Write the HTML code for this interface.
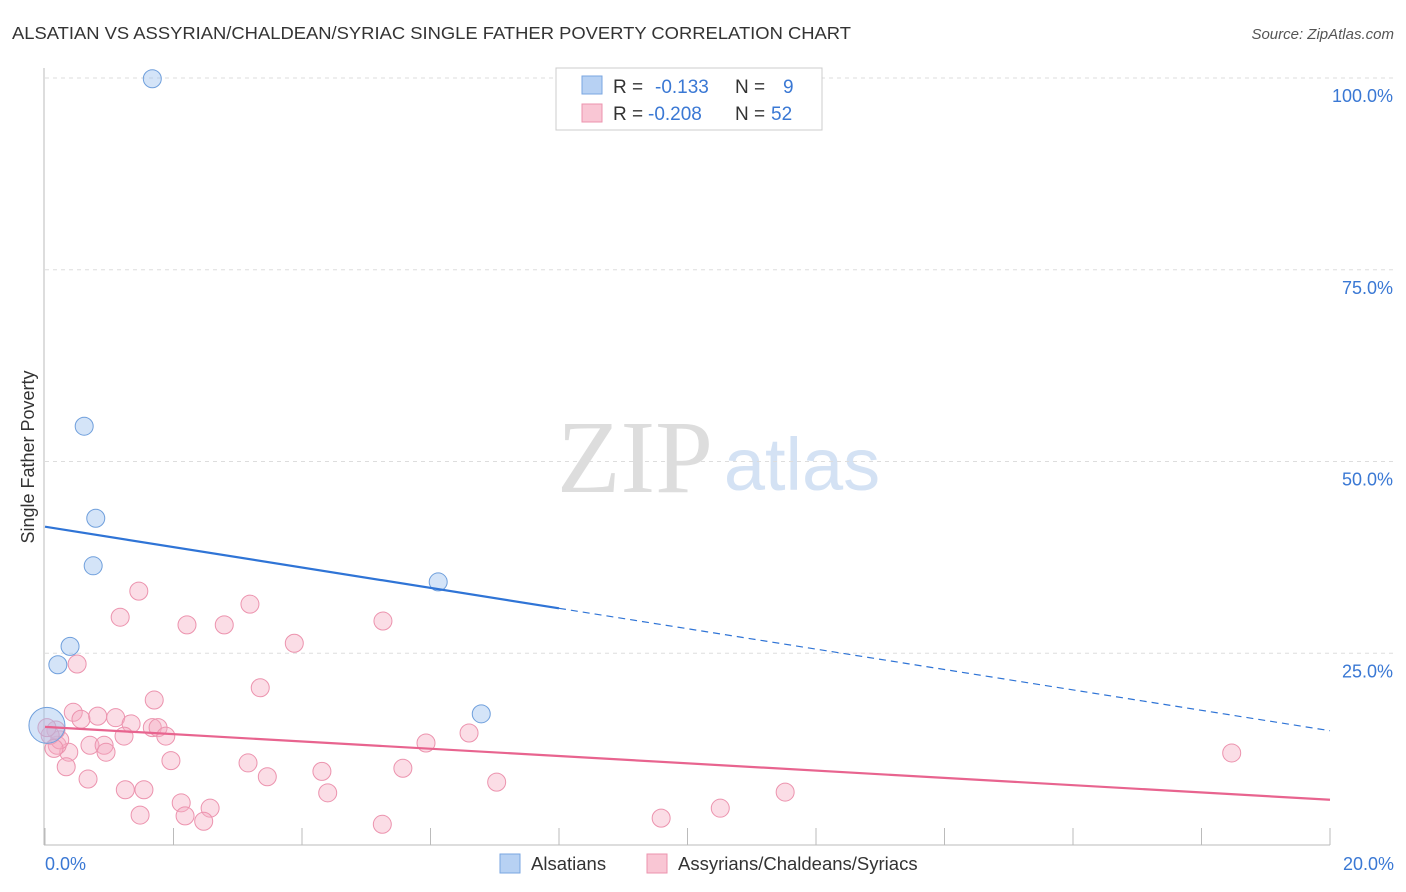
<!DOCTYPE html>
<html><head><meta charset="utf-8"><style>
body{margin:0;background:#fff;font-family:"Liberation Sans",sans-serif;}
svg{display:block}
</style></head><body>
<svg id="chart" width="1406" height="892" xmlns="http://www.w3.org/2000/svg">
<text x="12" y="39" font-size="17.5" fill="#333" textLength="839" lengthAdjust="spacingAndGlyphs">ALSATIAN VS ASSYRIAN/CHALDEAN/SYRIAC SINGLE FATHER POVERTY CORRELATION CHART</text>
<text x="1394" y="39" font-size="15" fill="#555" font-style="italic" text-anchor="end">Source: ZipAtlas.com</text>
<text x="0" y="0" transform="translate(34,457) rotate(-90)" font-size="18" fill="#333" text-anchor="middle">Single Father Poverty</text>
<g>
<text x="635" y="492" font-size="104" fill="#ddd" font-family="Liberation Serif,serif" text-anchor="middle">ZIP</text>
<text x="802" y="490" font-size="74" fill="#d4e2f4" text-anchor="middle">atlas</text>
</g>
<g id="grid"></g>
<g id="axes"></g>
<g id="points"></g>
<g id="lines"></g>
<g>
<rect x="556" y="68" width="266" height="62" fill="#fff" stroke="#ccc"/>
<rect x="582" y="76" width="20" height="18" fill="#b7d1f3" stroke="#7aa6e0"/>
<rect x="582" y="104" width="20" height="18" fill="#f9c6d4" stroke="#ec93ae"/>
<text x="613" y="93" font-size="19" fill="#333">R = </text><text x="655" y="93" font-size="19" fill="#3a78d4">-0.133</text>
<text x="735" y="93" font-size="19" fill="#333">N = </text><text x="783" y="93" font-size="19" fill="#3a78d4">9</text>
<text x="613" y="120" font-size="19" fill="#333">R = </text><text x="648" y="120" font-size="19" fill="#3a78d4">-0.208</text>
<text x="735" y="120" font-size="19" fill="#333">N = </text><text x="771" y="120" font-size="19" fill="#3a78d4">52</text>
</g>
<g>
<rect x="500" y="854" width="20" height="19" fill="#b7d1f3" stroke="#7aa6e0"/>
<text x="531" y="870" font-size="18.5" fill="#333">Alsatians</text>
<rect x="647" y="854" width="20" height="19" fill="#f9c6d4" stroke="#ec93ae"/>
<text x="678" y="870" font-size="18.5" fill="#333">Assyrians/Chaldeans/Syriacs</text>
</g>
</svg>
<script>
const blueX=[1.67,0.61,0.79,0.75,6.12,0.39,0.20,6.79,0.03];
const blueY=[99.9,54.6,42.6,36.4,34.3,25.9,23.5,17.1,15.6];
const pinkX=[1.46,1.17,2.21,2.79,3.19,3.88,5.26,0.50,1.70,3.35,0.44,0.56,0.82,1.10,1.34,1.67,1.76,1.88,1.23,0.70,0.92,0.37,0.95,0.19,0.23,0.17,0.08,0.14,0.33,0.67,1.96,3.16,3.46,4.31,4.40,5.57,5.93,6.60,7.03,1.25,1.54,2.12,2.57,2.18,1.48,2.47,5.25,9.59,10.51,11.52,18.47,0.03];
const pinkY=[33.1,29.7,28.7,28.7,31.4,26.3,29.2,23.6,18.9,20.5,17.3,16.4,16.8,16.6,15.8,15.3,15.3,14.2,14.2,13.0,13.0,12.1,12.1,13.0,13.7,15.0,14.3,12.6,10.2,8.6,11.0,10.7,8.9,9.6,6.8,10.0,13.3,14.6,8.2,7.2,7.2,5.5,4.8,3.8,3.9,3.1,2.7,3.5,4.8,6.9,12.0,15.3];
const yTicks=[25,50,75,100];
const xTickLabels=["0.0%","20.0%"];
const blueTrend=[41.5,14.9];
const pinkTrend=[15.4,5.9];
const blueSolidEnd=8;
const NS="http://www.w3.org/2000/svg";
const sx=v=>45+v/20*1285, sy=v=>845-v*7.67;
function mk(tag,attrs,parent){const e=document.createElementNS(NS,tag);for(const k in attrs)e.setAttribute(k,attrs[k]);parent.appendChild(e);return e;}
const grid=document.getElementById('grid'),axes=document.getElementById('axes'),pts=document.getElementById('points'),lines=document.getElementById('lines');
yTicks.forEach(t=>{
 const l=mk('line',{x1:45,x2:1394,y1:sy(t),y2:sy(t),stroke:'#ddd','stroke-dasharray':'4,4'},grid);
 
 
 const tx=mk('text',{x:1393,y:sy(t)+24,'font-size':18,fill:'#3a78d4','text-anchor':'end'},axes);
 tx.textContent=t.toFixed(1)+'%';
 
 
});
const ya=mk('line',{x1:44,x2:44,y1:68,y2:845,stroke:'#bbb'},axes);


const xa=mk('line',{x1:44,x2:1330,y1:845,y2:845,stroke:'#bbb'},axes);


for(let i=0;i<=10;i++){const t=mk('line',{x1:sx(i*2),x2:sx(i*2),y1:828,y2:845,stroke:'#bbb'},axes);
 
 }
const xl0=mk('text',{x:45,y:870,'font-size':18,fill:'#3a78d4'},axes);xl0.textContent=xTickLabels[0];


const xl1=mk('text',{x:1394,y:870,'font-size':18,fill:'#3a78d4','text-anchor':'end'},axes);xl1.textContent=xTickLabels[1];


pinkX.forEach((x,i)=>{const c=mk('circle',{cx:sx(x),cy:sy(pinkY[i]),r:9,fill:'rgba(246,170,192,0.4)',stroke:'#ec93ae','stroke-width':1},pts);
 
 });
blueX.forEach((x,i)=>{const c=mk('circle',{cx:sx(x),cy:sy(blueY[i]),r:i==8?18:9,fill:'rgba(160,195,240,0.45)',stroke:'#6f9fdc','stroke-width':1},pts);
 
 });
const by=x=>blueTrend[0]+(blueTrend[1]-blueTrend[0])*x/20;
const b1=mk('line',{x1:sx(0),y1:sy(by(0)),x2:sx(blueSolidEnd),y2:sy(by(blueSolidEnd)),stroke:'#2f74d6','stroke-width':2.2},lines);


const b2=mk('line',{x1:sx(blueSolidEnd),y1:sy(by(blueSolidEnd)),x2:sx(20),y2:sy(by(20)),stroke:'#2f74d6','stroke-width':1.2,'stroke-dasharray':'7,5'},lines);


const p1=mk('line',{x1:sx(0),y1:sy(pinkTrend[0]),x2:sx(20),y2:sy(pinkTrend[1]),stroke:'#e8648f','stroke-width':2.2},lines);


</script>
</body></html>
